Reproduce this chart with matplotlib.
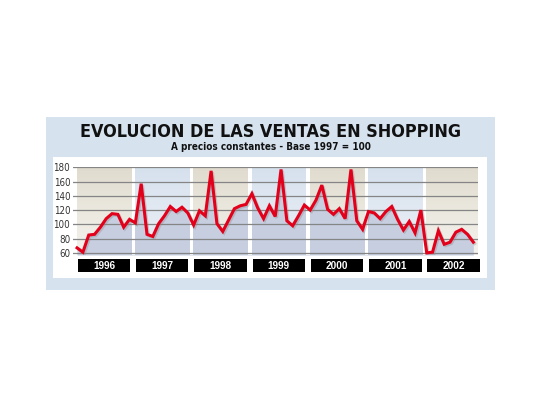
import numpy as np
import matplotlib
matplotlib.use("Agg")
import matplotlib.pyplot as plt
from matplotlib.patches import Rectangle
from matplotlib.colors import LinearSegmentedColormap
import matplotlib.patheffects as pe
import matplotlib.transforms as mtransforms

# ---- data ----
title = "EVOLUCION DE LAS VENTAS EN SHOPPING"
subtitle = "A precios constantes - Base 1997 = 100"
years = ["1996", "1997", "1998", "1999", "2000", "2001", "2002"]
yticks = [60, 80, 100, 120, 140, 160, 180]
ventas = [67, 61, 85, 86, 96, 108, 115, 114, 96, 107, 102, 157,
          86, 83, 101, 112, 125, 118, 124, 116, 99, 119, 112, 175,
          101, 90, 106, 122, 126, 128, 143, 123, 108, 126, 111, 177,
          105, 98, 112, 127, 120, 134, 155, 121, 114, 122, 108, 177,
          105, 93, 118, 116, 108, 118, 125, 107, 92, 104, 88, 120,
          60, 61, 91, 72, 75, 89, 93, 86, 75]

W, H = 540, 405
fig = plt.figure(figsize=(W / 100, H / 100), dpi=100)
fig.patch.set_facecolor("white")

def frect(x0, y0, x1, y1, color, z=-2):
    fig.patches.append(Rectangle((x0 / W, 1 - y1 / H), (x1 - x0) / W, (y1 - y0) / H,
                                 transform=fig.transFigure, facecolor=color,
                                 edgecolor="none", zorder=z))

frect(46, 117, 495, 290, "#d6e3ef", -3)
frect(53, 157, 487, 278, "white", -2)

cond = dict(family="DejaVu Sans", stretch="condensed")
fig.text(271 / W, 1 - 132 / H, title, ha="center", va="center", fontsize=12.9,
         fontweight="bold", color="#111111", **cond)
fig.text(271 / W, 1 - 146.5 / H, subtitle, ha="center", va="center", fontsize=7.1,
         fontweight="bold", color="#111111", **cond)

ax = fig.add_axes([73 / W, 1 - 255 / H, 405 / W, 87.7 / H])
ax.set_zorder(1)
x = np.arange(len(ventas))
ymin, ymax = 57, 180
xmin, xmax = -0.7, 68.8
ax.set_xlim(xmin, xmax)
ax.set_ylim(ymin, ymax)
ax.set_facecolor("white")

beige = LinearSegmentedColormap.from_list("b", ["#f4f2ed", "#ebe8df", "#e0dbce"])
blue = LinearSegmentedColormap.from_list("u", ["#eef2f8", "#e2e9f2", "#d6e1ee"])
grad = np.linspace(0, 1, 100).reshape(-1, 1)
band_w = 9.4
for i, yr in enumerate(years):
    st = i * 10 - 0.05
    e = min(st + band_w, xmax)
    cmap = beige if i % 2 == 0 else blue
    ax.imshow(grad, aspect="auto", cmap=cmap, extent=(st, e, ymin, ymax),
              origin="lower", zorder=0, interpolation="bilinear")

ax.fill_between(x, ventas, ymin, color="#c6cee0", zorder=1, lw=0)
for i in range(len(years)):
    gs = i * 10 - 0.05 + band_w
    ge = (i + 1) * 10 - 0.05
    ax.add_patch(Rectangle((gs, ymin), ge - gs, ymax - ymin, facecolor="white",
                           edgecolor="none", zorder=1.2))

ax.set_yticks(yticks)
ax.set_xticks([])
ax.grid(axis="y", color="#858585", lw=0.9)
ax.set_axisbelow(False)
for sp in ax.spines.values():
    sp.set_visible(False)
ax.tick_params(axis="y", length=0, pad=2, labelsize=7, labelcolor="#333333")
for lab in ax.get_yticklabels():
    lab.set_family("DejaVu Sans")
    lab.set_stretch("condensed")

ax.plot(x, ventas, color="#e3001b", lw=2.2, zorder=3, solid_joinstyle="miter",
        path_effects=[pe.SimpleLineShadow(offset=(1.0, -1.0), shadow_color="#888888", alpha=0.35),
                      pe.Normal()])

trans = mtransforms.blended_transform_factory(ax.transData, ax.transAxes)
for i, yr in enumerate(years):
    st = i * 10 + 0.12
    ax.add_patch(Rectangle((st, -0.194), 9.0, 0.148, transform=trans, facecolor="black",
                           edgecolor="none", clip_on=False, zorder=4))
    ax.text(st + 4.5, -0.12, yr, transform=trans, ha="center", va="center", color="white",
            fontsize=7.2, fontweight="bold", family=["Liberation Sans", "DejaVu Sans"],
            zorder=5, clip_on=False)

fig.savefig("out.png", dpi=100)
